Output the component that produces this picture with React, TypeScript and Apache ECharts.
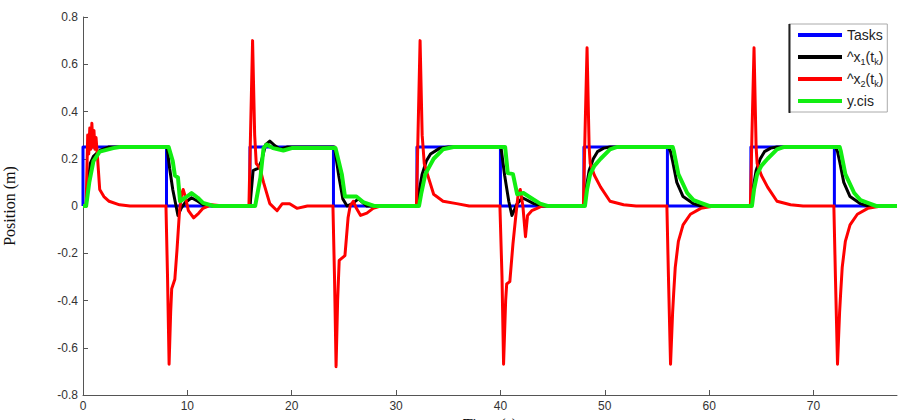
import React, { useEffect, useRef } from "react";
import * as echarts from "echarts";

// ---- data (time in s, position in m) ----
const tasks: number[][] = [
  [0, 0], [0, 0.25], [8, 0.25], [8, 0], [16, 0], [16, 0.25], [24, 0.25], [24, 0],
  [32, 0], [32, 0.25], [40, 0.25], [40, 0], [48, 0], [48, 0.25], [56, 0.25], [56, 0],
  [64, 0], [64, 0.25], [72, 0.25], [72, 0], [78, 0],
];

const x1Hat: number[][] = [
  [0, 0], [0.3, 0], [0.5, 0.1], [0.7, 0.18], [1.0, 0.21], [1.6, 0.235], [2.5, 0.25], [8.05, 0.25],
  [8.3, 0.16], [8.6, 0.07], [9.1, -0.04], [9.4, -0.01], [9.8, 0.015], [10.4, 0.035], [11, 0.02], [11.5, 0.005], [12.5, 0],
  [16.0, 0], [16.3, 0.15], [16.8, 0.16], [17.1, 0.19], [17.5, 0.26], [17.9, 0.275], [18.4, 0.255], [18.9, 0.24], [19.6, 0.25], [24.1, 0.25],
  [24.5, 0.13], [24.9, 0.03], [25.3, 0], [25.8, 0.01], [26.4, 0.03], [27.2, 0], [32.0, 0],
  [32.2, 0.06], [32.5, 0.135], [32.9, 0.19], [33.3, 0.22], [34.2, 0.245], [35, 0.25], [40.05, 0.25],
  [40.4, 0.13], [40.8, 0.02], [41.1, -0.04], [41.4, -0.01], [41.6, 0.01], [42.1, 0.035], [43.2, 0.01], [44, 0], [48, 0],
  [48.2, 0.07], [48.5, 0.15], [48.9, 0.2], [49.3, 0.23], [49.9, 0.245], [50.5, 0.25], [56.1, 0.25],
  [56.3, 0.23], [56.5, 0.19], [56.9, 0.1], [57.5, 0.04], [58.5, 0.01], [59.2, 0], [64, 0],
  [64.2, 0.07], [64.5, 0.15], [64.9, 0.2], [65.3, 0.23], [65.9, 0.245], [66.5, 0.25], [72.1, 0.25],
  [72.3, 0.23], [72.5, 0.19], [72.9, 0.1], [73.5, 0.04], [74.5, 0.01], [75.2, 0], [78, 0],
];

const x2Hat: number[][] = [
  [0, 0], [0.3, 0], [0.45, 0.3], [0.55, 0.22], [0.65, 0.33], [0.75, 0.24], [0.85, 0.35], [0.95, 0.25],
  [1.05, 0.32], [1.15, 0.24], [1.25, 0.29], [1.4, 0.2], [1.6, 0.07], [2.0, 0.04], [2.5, 0.02], [3.5, 0.005], [4.5, 0], [7.95, 0],
  [8.1, -0.3], [8.25, -0.67], [8.4, -0.45], [8.5, -0.35], [8.8, -0.31], [9.0, -0.19], [9.25, -0.02], [9.45, 0.05],
  [9.6, 0.07], [9.8, 0.04], [10.1, -0.02], [10.6, -0.05], [11.1, -0.03], [11.5, -0.01], [12.3, 0.005], [13.5, 0], [15.9, 0],
  [16.05, 0.3], [16.25, 0.7], [16.45, 0.3], [16.6, 0.18], [16.95, 0.16], [17.3, 0.1], [17.9, 0.01], [18.6, -0.02],
  [19.1, 0.01], [19.8, 0.01], [20.5, -0.01], [21.5, 0], [23.95, 0],
  [24.1, -0.3], [24.25, -0.68], [24.4, -0.4], [24.55, -0.23], [25.1, -0.21], [25.4, -0.05], [25.6, 0], [25.9, 0.02],
  [26.2, -0.01], [26.6, -0.04], [27.2, -0.03], [27.8, -0.01], [28.5, 0], [31.95, 0],
  [32.1, 0.3], [32.3, 0.7], [32.5, 0.3], [32.7, 0.18], [33.0, 0.135], [33.6, 0.05], [34.5, 0.02], [35.8, 0.01], [37, 0], [39.95, 0],
  [40.15, -0.3], [40.3, -0.67], [40.5, -0.4], [40.6, -0.33], [40.9, -0.32], [41.2, -0.16], [41.5, -0.03], [41.7, 0.05],
  [41.9, 0.07], [42.15, 0], [42.4, -0.13], [42.6, -0.04], [43, -0.02], [43.5, -0.01], [44, 0], [47.95, 0],
  [48.1, 0.3], [48.3, 0.67], [48.5, 0.25], [48.6, 0.18], [49.0, 0.13], [49.6, 0.08], [50.5, 0.02], [51.8, 0.005], [53, 0], [55.95, 0],
  [56.1, -0.3], [56.3, -0.67], [56.5, -0.45], [56.6, -0.37], [56.75, -0.26], [57.05, -0.15], [57.5, -0.08], [58.2, -0.035],
  [59.2, -0.01], [60.5, 0], [63.95, 0],
  [64.1, 0.3], [64.3, 0.67], [64.5, 0.25], [64.6, 0.18], [65.0, 0.13], [65.6, 0.08], [66.5, 0.02], [67.8, 0.005], [69, 0], [71.95, 0],
  [72.1, -0.3], [72.3, -0.67], [72.5, -0.45], [72.6, -0.37], [72.75, -0.26], [73.05, -0.15], [73.5, -0.08], [74.2, -0.035],
  [75.2, -0.01], [76.5, 0], [78, 0],
];

const yCis: number[][] = [
  [0, 0], [0.3, 0], [0.6, 0.1], [1.0, 0.19], [1.6, 0.23], [2.9, 0.245], [3.5, 0.25], [8.2, 0.25],
  [8.6, 0.19], [8.8, 0.13], [9.1, 0.12], [9.3, 0.02], [9.8, 0.035], [10.4, 0.055], [11.0, 0.035], [11.5, 0.013], [12.5, 0],
  [16.5, 0], [17.0, 0.12], [17.3, 0.245], [17.6, 0.26], [18.2, 0.245], [19.2, 0.235], [20, 0.245], [24.2, 0.245],
  [24.5, 0.19], [24.8, 0.135], [25.1, 0.04], [26.2, 0.04], [26.9, 0.015], [27.9, 0],
  [32.2, 0], [32.4, 0.05], [32.8, 0.135], [33.6, 0.2], [34.5, 0.24], [35.5, 0.25], [40.45, 0.25],
  [40.7, 0.14], [41.2, 0.135], [41.6, 0.05], [42.2, 0.055], [42.9, 0.035], [43.8, 0.01], [44.5, 0],
  [48.1, 0], [48.3, 0.07], [48.6, 0.135], [49, 0.17], [49.6, 0.2], [50.5, 0.24], [51.2, 0.25], [56.5, 0.25],
  [56.6, 0.235], [57.05, 0.135], [57.9, 0.055], [58.5, 0.025], [59.2, 0.013], [60, 0],
  [64.1, 0], [64.3, 0.07], [64.6, 0.135], [65, 0.17], [65.6, 0.2], [66.5, 0.24], [67.2, 0.25], [72.5, 0.25],
  [72.6, 0.235], [73.05, 0.135], [73.9, 0.055], [74.5, 0.025], [75.2, 0.013], [76, 0], [78, 0],
];

const xTicks = [0, 10, 20, 30, 40, 50, 60, 70];
const yTicks = [-0.8, -0.6, -0.4, -0.2, 0, 0.2, 0.4, 0.6, 0.8];
const seriesNames = ["Tasks", "^x1(tk)", "^x2(tk)", "y.cis"];
const legendLabels: Record<string, string> = {
  "Tasks": "{a|Tasks}",
  "^x1(tk)": "{a|^x}{s|1}{a|(t}{s|k}{a|)}",
  "^x2(tk)": "{a|^x}{s|2}{a|(t}{s|k}{a|)}",
  "y.cis": "{a|y.cis}",
};

export default function App() {
  const ref = useRef<HTMLDivElement>(null);
  useEffect(() => {
    if (!ref.current) return;
    const chart = echarts.init(ref.current, null, { renderer: "svg" });
    const axisColor = "#555";
    const labelStyle = { color: "#333", fontSize: 12, fontFamily: "Liberation Sans" };
    const mk = (name: string, data: number[][], color: string, width: number) => ({
      name,
      type: "line",
      data,
      color,
      showSymbol: false,
      symbol: "none",
      lineStyle: { color, width, join: "round" },
      silent: true,
    });
    chart.setOption({
      animation: false,
      backgroundColor: "#fff",
      grid: { left: 83, right: 9, top: 17, bottom: 25, containLabel: false, outerBoundsMode: "none" },
      xAxis: {
        type: "value",
        min: 0,
        max: 78,
        interval: 10,
        name: "Time (s)",
        nameLocation: "middle",
        nameGap: 11,
        nameTextStyle: { fontFamily: "Liberation Serif", fontSize: 16, color: "#111", verticalAlign: "top" },
        axisLine: { show: true, onZero: false, lineStyle: { color: axisColor, width: 1 } },
        axisTick: { show: true, inside: true, length: 5, lineStyle: { color: axisColor }, customValues: xTicks },
        axisLabel: { ...labelStyle, margin: 5, customValues: xTicks },
        splitLine: { show: false },
      },
      yAxis: {
        type: "value",
        min: -0.8,
        max: 0.8,
        interval: 0.2,
        name: "Position (m)",
        nameLocation: "middle",
        nameGap: 66,
        nameTextStyle: { fontFamily: "Liberation Serif", fontSize: 16, color: "#111" },
        axisLine: { show: true, onZero: false, lineStyle: { color: axisColor, width: 1 } },
        axisTick: { show: true, inside: true, length: 5, lineStyle: { color: axisColor }, customValues: yTicks },
        axisLabel: {
          ...labelStyle,
          margin: 5,
          customValues: yTicks,
          formatter: (v: number) => (Math.abs(v) < 1e-9 ? "0" : String(Math.round(v * 10) / 10)),
        },
        splitLine: { show: false },
      },
      legend: {
        data: seriesNames,
        orient: "vertical",
        left: 789,
        top: 24,
        padding: [2, 4, 2, 9],
        itemGap: 4,
        itemWidth: 44,
        itemHeight: 4,
        icon: "rect",
        backgroundColor: "#fff",
        borderColor: "#aaa",
        borderWidth: 1,
        selectedMode: false,
        formatter: (name: string) => legendLabels[name] || name,
        textStyle: {
          color: "#222",
          fontFamily: "Liberation Sans",
          fontSize: 14,
          lineHeight: 18,
          rich: {
            a: { fontSize: 14, lineHeight: 18, verticalAlign: "middle", color: "#222", fontFamily: "Liberation Sans" },
            s: { fontSize: 9, lineHeight: 10, verticalAlign: "bottom", color: "#222", fontFamily: "Liberation Sans" },
          },
        },
      },
      graphic: [
        { type: "line", z: 100, shape: { x1: 789.5, y1: 24, x2: 789.5, y2: 113 }, style: { stroke: "#222", lineWidth: 2 } },
      ],
      series: [
        mk("Tasks", tasks, "#0000ff", 3),
        mk("^x1(tk)", x1Hat, "#000000", 3),
        mk("^x2(tk)", x2Hat, "#ff0000", 3),
        mk("y.cis", yCis, "#11ee11", 4),
      ],
    });
    return () => chart.dispose();
  }, []);
  return <div ref={ref} style={{ width: 906, height: 420, position: "absolute", left: 0, top: 0 }} />;
}
